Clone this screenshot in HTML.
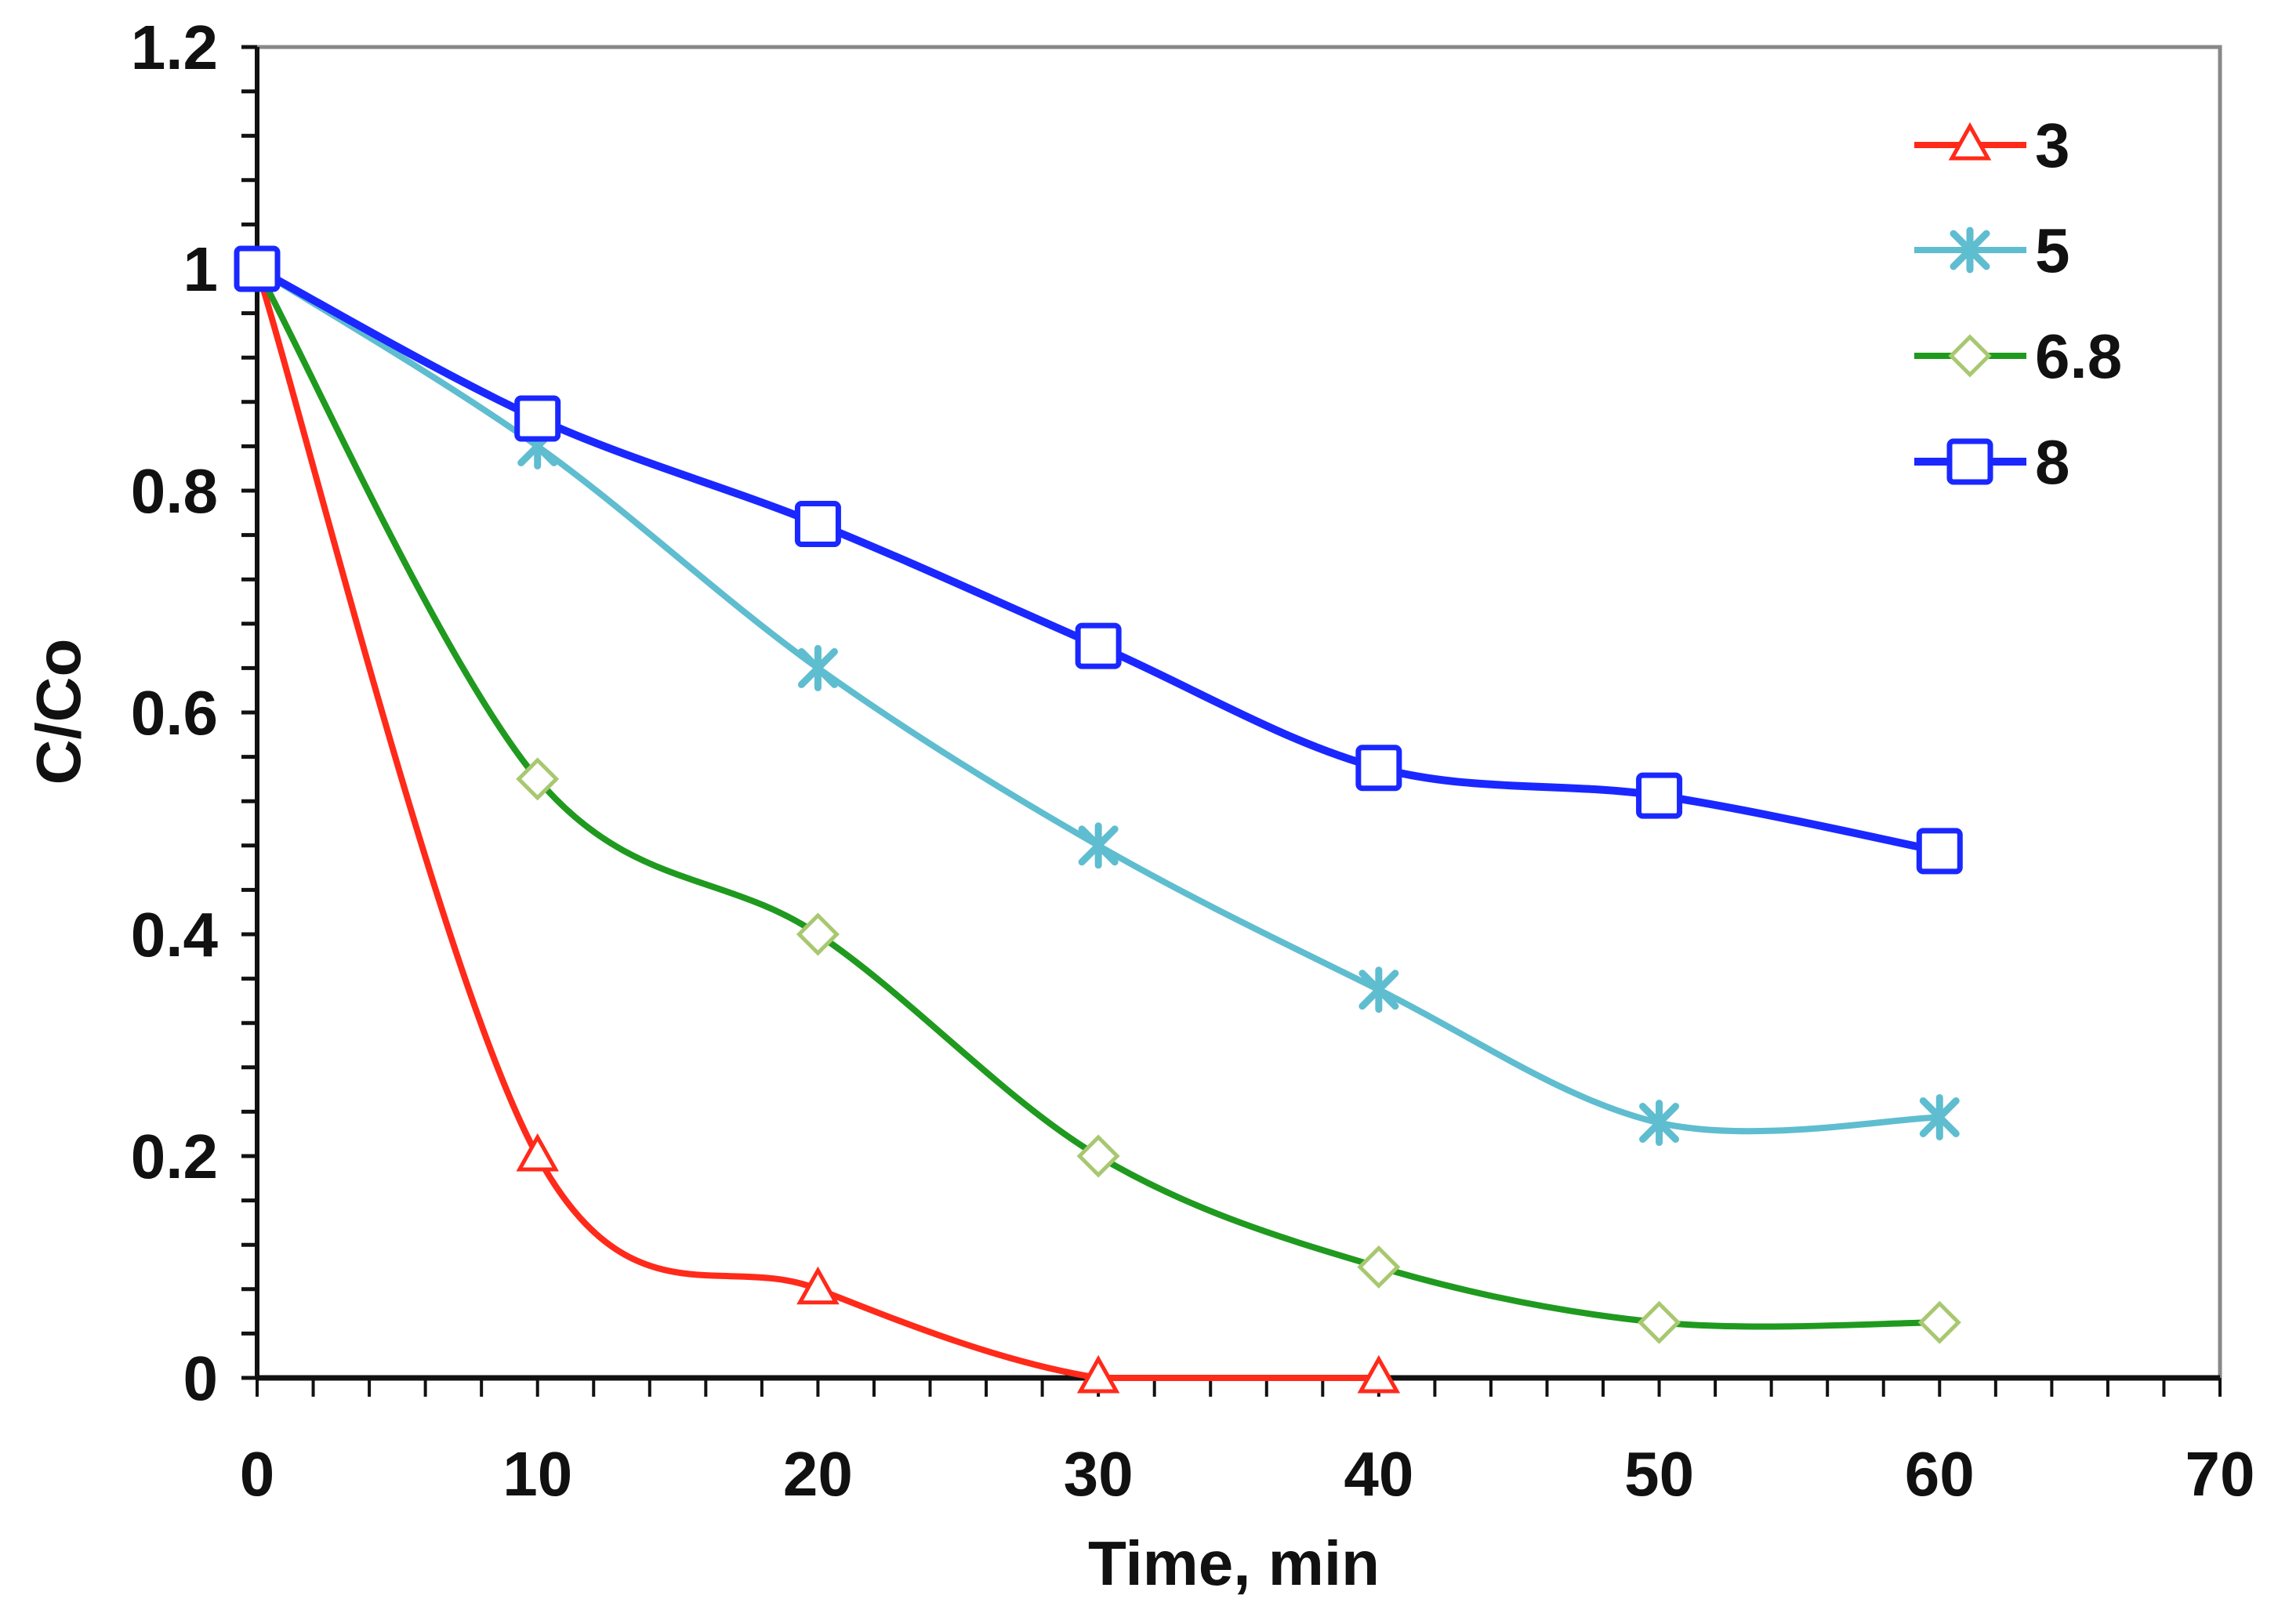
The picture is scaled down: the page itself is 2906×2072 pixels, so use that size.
<!DOCTYPE html>
<html><head><meta charset="utf-8"><style>
html,body{margin:0;padding:0;background:#fff;}
svg{display:block;font-family:"Liberation Sans",sans-serif;font-weight:bold;}
</style></head><body>
<svg id="chart" width="2906" height="2072" viewBox="0 0 2906 2072" xmlns="http://www.w3.org/2000/svg">
<g id="axes"></g><g id="series"></g><g id="legend"></g>
</svg>
<script>
const times = [0,10,20,30,40,50,60];
const seriesNames = ["3","5","6.8","8"];
const values3 = [1,0.2,0.08,0,0];
const values5 = [1,0.84,0.64,0.48,0.35,0.23,0.235];
const values68 = [1,0.54,0.40,0.20,0.10,0.05,0.05];
const values8 = [1,0.865,0.77,0.66,0.55,0.525,0.475];
const xTicks = [0,10,20,30,40,50,60,70];
const yTicks = [0,0.2,0.4,0.6,0.8,1,1.2];

const NS="http://www.w3.org/2000/svg";
const X0=328,X1=2832,Y0=1758,Y1=60;
const xs=v=>X0+(v/70)*(X1-X0);
const ys=v=>Y0-(v/1.2)*(Y0-Y1);
function mk(tag,attrs,parent){const e=document.createElementNS(NS,tag);for(const k in attrs)e.setAttribute(k,attrs[k]);parent.appendChild(e);return e;}
const axes=document.getElementById('axes'),ser=document.getElementById('series'),leg=document.getElementById('legend');

let f=mk('path',{d:`M${X0},${Y1} L${X1},${Y1} L${X1},${Y0}`,stroke:'#888',fill:'none','stroke-width':5},axes);


for(let i=0;i<=30;i++){const y=ys(i*0.04);const t=mk('line',{x1:X0-20,x2:X0,y1:y,y2:y,stroke:'#111','stroke-width':5},axes);

}
for(let i=0;i<=35;i++){const x=xs(i*2);const t=mk('line',{x1:x,x2:x,y1:Y0,y2:Y0+24,stroke:'#111','stroke-width':4},axes);

}
let ya=mk('line',{x1:X0,x2:X0,y1:Y1,y2:Y0,stroke:'#111','stroke-width':6},axes);


let xa=mk('line',{x1:X0,x2:X1,y1:Y0,y2:Y0,stroke:'#111','stroke-width':7},axes);


yTicks.forEach(v=>{const t=mk('text',{x:X0-50,y:ys(v)+28,'text-anchor':'end','font-size':80,fill:'#111'},axes);t.textContent=String(v);

});
xTicks.forEach(v=>{const t=mk('text',{x:xs(v),y:1908,'text-anchor':'middle','font-size':80,fill:'#111'},axes);t.textContent=String(v);

});
let xt=mk('text',{x:1574,y:2022,'text-anchor':'middle','font-size':80,fill:'#111'},axes);xt.textContent='Time, min';


let yt=mk('text',{x:0,y:0,'text-anchor':'middle','font-size':80,fill:'#111',transform:'translate(102,908) rotate(-90)'},axes);yt.textContent='C/Co';



function smooth(pts){let d=`M${pts[0][0]},${pts[0][1]}`;for(let i=0;i<pts.length-1;i++){const p0=pts[Math.max(0,i-1)],p1=pts[i],p2=pts[i+1],p3=pts[Math.min(pts.length-1,i+2)];const k=1/6;
const c1y=Math.min(Y0,p1[1]+(p2[1]-p0[1])*k),c2y=Math.min(Y0,p2[1]-(p3[1]-p1[1])*k);
d+=` C${p1[0]+(p2[0]-p0[0])*k},${c1y} ${p2[0]-(p3[0]-p1[0])*k},${c2y} ${p2[0]},${p2[1]}`;}return d;}
function marker(type,x,y,g,color,fill){
 if(type==='tri'){return mk('path',{d:`M${x},${y-24} L${x+23},${y+17} L${x-23},${y+17} Z`,fill:'#fff',stroke:color,'stroke-width':5},g);}
 if(type==='dia'){return mk('path',{d:`M${x},${y-24} L${x+24},${y} L${x},${y+24} L${x-24},${y} Z`,fill:'#fff',stroke:fill,'stroke-width':5},g);}
 if(type==='sq'){return mk('rect',{x:x-26,y:y-26,width:52,height:52,rx:5,fill:'#fff',stroke:color,'stroke-width':7},g);}
 const gg=mk('g',{stroke:color,'stroke-width':9,'stroke-linecap':'round'},g);
 mk('line',{x1:x-21,y1:y-21,x2:x+21,y2:y+21},gg);mk('line',{x1:x-21,y1:y+21,x2:x+21,y2:y-21},gg);mk('line',{x1:x,y1:y-25,x2:x,y2:y+25},gg);return gg;
}
const defs=[{vals:values3,color:'#ff2a1a',w:8,m:'tri',mc:'#ff2a1a'},{vals:values5,color:'#5fbdd0',w:8,m:'ast',mc:'#5fbdd0'},{vals:values68,color:'#1f9a1f',w:8,m:'dia',mc:'#a8c870'},{vals:values8,color:'#1a28ff',w:10,m:'sq',mc:'#1a28ff'}];
const legY=[185,319,454,589];
defs.forEach((s,i)=>{
 const g=mk('g',{},ser);
 
 
 const pts=s.vals.map((v,j)=>[xs(times[j]),ys(v)]);
 const p=mk('path',{d:smooth(pts),fill:'none',stroke:s.color,'stroke-width':s.w},g);
 
 
 pts.forEach(pt=>{const m=marker(s.m,pt[0],pt[1],g,s.color,s.mc);
  
  });
 const lg=mk('g',{},leg);
 
 
 mk('line',{x1:2442,x2:2585,y1:legY[i],y2:legY[i],stroke:s.color,'stroke-width':s.w},lg);
 marker(s.m,2513,legY[i],lg,s.color,s.mc);
 const t=mk('text',{x:2596,y:legY[i]+28,'font-size':80,fill:'#111'},lg);t.textContent=seriesNames[i];
});
</script>
</body></html>
